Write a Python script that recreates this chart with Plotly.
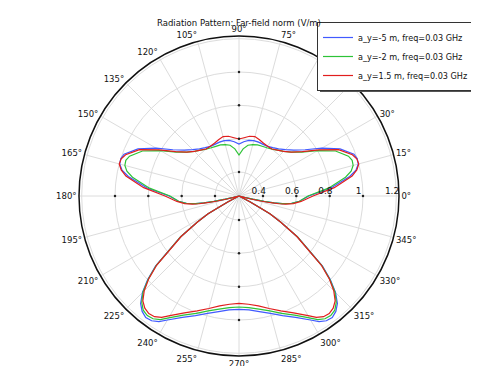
import plotly.graph_objects as go

# ---- data ----
theta_deg = [0, 5, 10, 12.5, 15, 17.5, 20, 25, 30, 35, 40, 45, 50, 55, 60, 65, 70, 75, 80, 85, 90,
             95, 100, 105, 110, 115, 120, 125, 130, 135, 140, 145, 150, 155, 160, 162.5, 165, 167.5, 170, 175, 180,
             185, 188, 190, 191, 192, 193, 194, 202,
             208, 209, 210, 212, 215, 220, 222.5, 225, 227.5, 230, 232.5, 235, 237.5, 240, 245, 250, 255, 260, 265, 270,
             275, 280, 285, 290, 295, 300, 302.5, 305, 307.5, 310, 312.5, 315, 317.5, 320, 325, 328, 330, 331, 332,
             340, 346, 347, 348, 349, 350, 352, 355, 360]

r_ay_minus5 = [0.675, 0.81, 0.93, 0.975, 0.997, 1.0, 0.99, 0.925, 0.83, 0.74, 0.685, 0.65, 0.625, 0.61, 0.60, 0.598, 0.60, 0.60, 0.595, 0.583, 0.568,
               0.583, 0.595, 0.60, 0.60, 0.598, 0.60, 0.61, 0.625, 0.65, 0.685, 0.74, 0.83, 0.925, 0.99, 1.0, 0.997, 0.975, 0.93, 0.81, 0.675,
               0.62, 0.575, 0.52, 0.47, 0.41, 0.34, 0.29, 0.256,
               0.33, 0.40, 0.47, 0.55, 0.685, 0.91, 1.0, 1.075, 1.13, 1.16, 1.175, 1.17, 1.15, 1.115, 1.06, 1.02, 0.985, 0.96, 0.942, 0.936,
               0.942, 0.96, 0.985, 1.02, 1.06, 1.115, 1.15, 1.17, 1.175, 1.16, 1.13, 1.075, 1.0, 0.91, 0.685, 0.55, 0.47, 0.40, 0.33,
               0.256, 0.29, 0.34, 0.41, 0.47, 0.52, 0.575, 0.62, 0.675]

r_ay_minus2 = [0.67, 0.795, 0.905, 0.945, 0.965, 0.968, 0.955, 0.895, 0.80, 0.715, 0.665, 0.635, 0.615, 0.60, 0.59, 0.585, 0.582, 0.575, 0.565, 0.54, 0.502,
               0.54, 0.565, 0.575, 0.582, 0.585, 0.59, 0.60, 0.615, 0.635, 0.665, 0.715, 0.80, 0.895, 0.955, 0.968, 0.965, 0.945, 0.905, 0.795, 0.67,
               0.62, 0.575, 0.52, 0.47, 0.41, 0.34, 0.29, 0.256,
               0.33, 0.40, 0.47, 0.55, 0.685, 0.905, 0.995, 1.07, 1.12, 1.15, 1.16, 1.155, 1.135, 1.10, 1.045, 1.005, 0.97, 0.945, 0.928, 0.922,
               0.928, 0.945, 0.97, 1.005, 1.045, 1.10, 1.135, 1.155, 1.16, 1.15, 1.12, 1.07, 0.995, 0.905, 0.685, 0.55, 0.47, 0.40, 0.33,
               0.256, 0.29, 0.34, 0.41, 0.47, 0.52, 0.575, 0.62, 0.67]

r_ay_plus15 = [0.70, 0.83, 0.945, 0.98, 1.0, 0.997, 0.98, 0.915, 0.81, 0.72, 0.665, 0.635, 0.615, 0.60, 0.60, 0.605, 0.615, 0.625, 0.62, 0.607, 0.598,
               0.607, 0.62, 0.625, 0.615, 0.605, 0.60, 0.60, 0.615, 0.635, 0.665, 0.72, 0.81, 0.915, 0.98, 0.997, 1.0, 0.98, 0.945, 0.83, 0.70,
               0.63, 0.585, 0.54, 0.50, 0.45, 0.39, 0.33, 0.256,
               0.33, 0.40, 0.47, 0.55, 0.68, 0.90, 0.99, 1.06, 1.11, 1.135, 1.145, 1.14, 1.12, 1.085, 1.03, 0.99, 0.955, 0.925, 0.908, 0.90,
               0.908, 0.925, 0.955, 0.99, 1.03, 1.085, 1.12, 1.14, 1.145, 1.135, 1.11, 1.06, 0.99, 0.90, 0.68, 0.55, 0.47, 0.40, 0.33,
               0.256, 0.33, 0.39, 0.45, 0.50, 0.54, 0.585, 0.63, 0.70]

series_names = ["a_y=-5 m, freq=0.03 GHz", "a_y=-2 m, freq=0.03 GHz", "a_y=1.5 m, freq=0.03 GHz"]
series_values = [r_ay_minus5, r_ay_minus2, r_ay_plus15]
series_colors = ["rgb(65,90,255)", "rgb(45,195,55)", "rgb(225,30,30)"]

radial_ticks = [0.4, 0.6, 0.8, 1.0, 1.2]
radial_labels = ["0.4", "0.6", "0.8", "1", "1.2"]
angle_ticks = list(range(0, 360, 15))
angle_labels = [f"{a}°" for a in angle_ticks]
axis_tick_angles = [0, 90, 180, 270]          # directions carrying small tick dots
radial_range = [0.256, 1.216]

for v in series_values:
    assert len(v) == len(theta_deg)

# ---- figure geometry (page body has an 8px margin, so the figure is 8px smaller) ----
OFF = 8
W, H = 479 - OFF, 366 - OFF
cx, cy, R = 239 - OFF, 196 - OFF, 160          # polar centre / radius in figure pixels
leg_left, leg_top = 317 - OFF, 22 - OFF        # legend box top-left in figure pixels
leg_w, leg_h = 158, 67                          # approx. legend box size
shadow = 3

fig = go.Figure()
for name, vals, col in zip(series_names, series_values, series_colors):
    fig.add_trace(go.Scatterpolar(r=vals, theta=theta_deg, mode="lines", name=name,
                                  line=dict(color=col, width=1.2)))

# small tick dots on the main axis directions (axis decoration)
dot_r = [rv for _ in axis_tick_angles for rv in radial_ticks[:-1]]
dot_t = [a for a in axis_tick_angles for _ in radial_ticks[:-1]]
fig.add_trace(go.Scatterpolar(r=dot_r, theta=dot_t, mode="markers", showlegend=False,
                              hoverinfo="skip", marker=dict(color="#222222", size=2.5)))

pad = "\u00a0\u00a0\u00a0"
fig.update_layout(
    width=W, height=H,
    margin=dict(l=0, r=0, t=0, b=0),
    paper_bgcolor="white",
    font=dict(family="DejaVu Sans", size=8.5, color="#111111"),
    title=dict(text="Radiation Pattern: Far-field norm (V/m)", x=(239 - OFF) / W, xanchor="center",
               y=1 - (23 - OFF) / H, yanchor="middle", font=dict(size=8.5, color="#111111")),
    polar=dict(
        domain=dict(x=[(cx - R) / W, (cx + R) / W], y=[(H - cy - R) / H, (H - cy + R) / H]),
        bgcolor="white",
        radialaxis=dict(range=radial_range, tickvals=radial_ticks,
                        ticktext=[t + pad for t in radial_labels],
                        angle=0, tickangle=0, side="counterclockwise", showline=False,
                        gridcolor="#dcdcdc", gridwidth=1, ticks="", tickfont=dict(size=9)),
        angularaxis=dict(tickvals=angle_ticks, ticktext=angle_labels, direction="counterclockwise",
                         rotation=0, linecolor="#111111", linewidth=1.5, gridcolor="#dcdcdc",
                         gridwidth=1, ticks="", tickfont=dict(size=8.5)),
    ),
    legend=dict(x=leg_left / W, y=1 - leg_top / H, xanchor="left", yanchor="top", bgcolor="white",
                bordercolor="#333333", borderwidth=1, font=dict(size=8.1)),
    showlegend=True,
    shapes=[dict(type="rect", xref="paper", yref="paper", layer="above",
                 x0=(leg_left + shadow) / W, x1=(leg_left + leg_w + shadow) / W,
                 y0=1 - (leg_top + leg_h + shadow) / H, y1=1 - (leg_top + shadow) / H,
                 fillcolor="#555555", line=dict(width=0))],
)

fig.write_html("out.html")
